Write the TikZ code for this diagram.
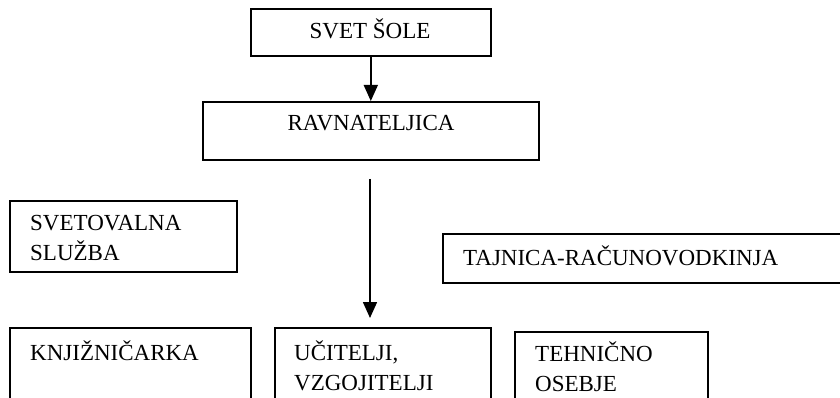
\documentclass[tikz,border=0pt]{standalone}
\usepackage{fontspec}
\setmainfont{Liberation Serif}
\usetikzlibrary{arrows.meta}
\begin{document}
\begin{tikzpicture}[x=1pt,y=-1pt,
  box/.style={draw=black,line width=1.6pt,rectangle,inner sep=0pt,anchor=north west},
  lbl/.style={anchor=base west,inner sep=0pt,font=\fontsize{23}{30}\selectfont,align=left},
  clbl/.style={anchor=base,inner sep=0pt,font=\fontsize{23}{30}\selectfont},
  arr/.style={line width=1.6pt,-{Triangle[length=16pt,width=14pt]}}]
\useasboundingbox (0,0) rectangle (840,398);
% boxes
\node[box,minimum width=240pt,minimum height=47pt] (svet) at (250,8) {};
\node[box,minimum width=336pt,minimum height=58pt] (ravn) at (202,101) {};
\node[box,minimum width=227pt,minimum height=71pt] (svetov) at (9,200) {};
\node[box,minimum width=420pt,minimum height=49pt] (tajn) at (442,233) {};
\node[box,minimum width=241pt,minimum height=90pt] (knj) at (9,327) {};
\node[box,minimum width=216pt,minimum height=90pt] (ucit) at (274,327) {};
\node[box,minimum width=193pt,minimum height=90pt] (teh) at (514,331) {};
% texts (base anchor of a two-line text is its second line)
\node[clbl] (tsvet) at (370,39) {SVET ŠOLE};
\node[clbl] (travn) at (371,131) {RAVNATELJICA};
\node[lbl] (tsvetov) at (30,260) {SVETOVALNA\\SLUŽBA};
\node[lbl] (ttajn) at (463,265) {TAJNICA-RAČUNOVODKINJA};
\node[lbl] (tknj) at (30,360) {KNJIŽNIČARKA};
\node[lbl] (tucit) at (294,390) {UČITELJI,\\VZGOJITELJI};
\node[lbl] (tteh) at (535,391) {TEHNIČNO\\OSEBJE};
% connectors
\draw[arr] (svet.south) -- (ravn.north);
\coordinate (a2) at (370,179);
\draw[arr,shorten >=9pt] (a2) -- (a2 |- ucit.north);
\end{tikzpicture}
\end{document}
